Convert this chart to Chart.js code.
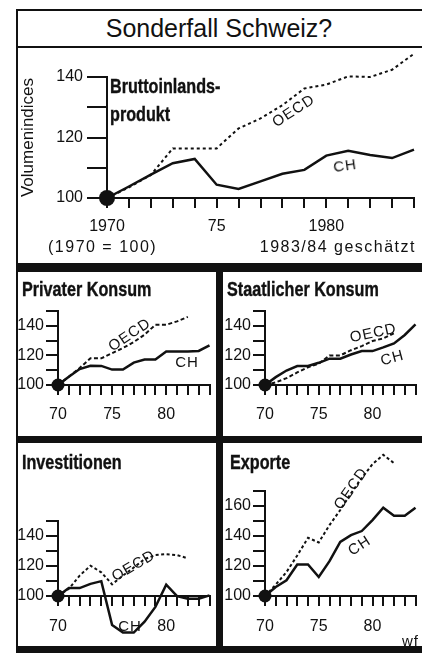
<!DOCTYPE html>
<html><head><meta charset="utf-8">
<script src="https://cdn.jsdelivr.net/npm/chart.js@4.4.1/dist/chart.umd.min.js"></script>
<style>
body{margin:0;width:422px;height:653px;overflow:hidden;background:#fff;position:relative;font-family:"Liberation Sans",Arial,sans-serif;color:#111}
.band{position:absolute;background:#111}
canvas{position:absolute}
.cond{position:absolute;font-family:"Liberation Sans",Arial,sans-serif;font-weight:bold;font-size:21px;line-height:20px;white-space:nowrap;transform:scaleX(0.77);transform-origin:0 0;-webkit-text-stroke:0.4px #111}
.lbl{position:absolute;font-size:15px;line-height:15px;white-space:nowrap;letter-spacing:1px}
.txt{position:absolute;font-size:16px;line-height:16px;white-space:nowrap;letter-spacing:1.5px}
</style></head>
<body>
<div class="band" style="left:16px;top:9px;width:2px;height:640px"></div>
<div class="band" style="left:16px;top:9px;width:406px;height:2px"></div>
<div class="band" style="left:16px;top:46px;width:406px;height:2px"></div>
<div class="band" style="left:16px;top:263px;width:406px;height:9px"></div>
<div class="band" style="left:216px;top:263px;width:7px;height:390px"></div>
<div class="band" style="left:16px;top:436px;width:406px;height:7px"></div>
<div class="band" style="left:16px;top:646px;width:406px;height:7px"></div>

<div style="position:absolute;left:16px;top:16px;width:406px;text-align:center;font-size:25px;line-height:25px">Sonderfall Schweiz?</div>

<canvas id="cTop" width="404" height="215" style="left:18px;top:48px"></canvas>
<canvas id="cPriv" width="198" height="164" style="left:18px;top:272px"></canvas>
<canvas id="cState" width="199" height="164" style="left:223px;top:272px"></canvas>
<canvas id="cInv" width="198" height="203" style="left:18px;top:443px"></canvas>
<canvas id="cExp" width="199" height="203" style="left:223px;top:443px"></canvas>

<div class="cond" style="left:110px;top:72px;line-height:28px">Bruttoinlands-<br>produkt</div>
<div class="cond" style="left:22px;top:279px">Privater Konsum</div>
<div class="cond" style="left:227px;top:279px">Staatlicher Konsum</div>
<div class="cond" style="left:22px;top:452px">Investitionen</div>
<div class="cond" style="left:230px;top:452px">Exporte</div>

<div class="txt" style="left:48px;top:239px">(1970 = 100)</div>
<div class="txt" style="right:6px;top:239px">1983/84 geschätzt</div>
<div class="lbl" style="left:402px;top:633px;font-size:15px">wf</div>

<div class="lbl" style="left:293px;top:110px;transform:translate(-50%,-50%) rotate(-33deg)">OECD</div>
<div class="lbl" style="left:345px;top:165px;transform:translate(-50%,-50%) rotate(-8deg)">CH</div>
<div class="lbl" style="left:129px;top:334px;transform:translate(-50%,-50%) rotate(-34deg)">OECD</div>
<div class="lbl" style="left:187px;top:361px;transform:translate(-50%,-50%)">CH</div>
<div class="lbl" style="left:373px;top:332px;transform:translate(-50%,-50%) rotate(-12deg)">OECD</div>
<div class="lbl" style="left:392px;top:357px;transform:translate(-50%,-50%) rotate(-15deg)">CH</div>
<div class="lbl" style="left:133px;top:565px;transform:translate(-50%,-50%) rotate(-30deg)">OECD</div>
<div class="lbl" style="left:130px;top:625px;transform:translate(-50%,-50%)">CH</div>
<div class="lbl" style="left:350px;top:488px;transform:translate(-50%,-50%) rotate(-55deg)">OECD</div>
<div class="lbl" style="left:359px;top:545px;transform:translate(-50%,-50%) rotate(-33deg)">CH</div>

<script>
const years = [1970,1971,1972,1973,1974,1975,1976,1977,1978,1979,1980,1981,1982,1983,1984];

const gdpCH   = [100,103.8,107.7,111.5,112.9,104.4,103,105.5,108,109.3,114,115.6,114.2,113.2,116];
const gdpOECD = [100,103.5,107.6,116.4,116.4,116.4,123,126.3,130.7,136.2,137.5,140.2,140,142.4,147.7];

const privCH   = [100,105.6,110.8,113,112.9,110.4,110.4,115.1,117.2,117.2,122.6,122.6,122.6,123,126.7];
const privOECD = [100,105.6,111.5,118,118,121.5,125,129,134,140.7,140.7,143,146];

const stateCH   = [100,105.3,109.8,112.8,112.8,115,117.8,117.8,120.6,122.9,122.9,125.4,128.1,133.8,141];
const stateOECD = [100,101.8,104.6,108.5,112,114.4,120,120,123.5,126.3,129.7,131.5,135];

const invCH   = [100,105.3,105.3,108.1,109.9,80.7,75.6,75.6,82.9,92.7,107.5,100,98.2,98.2,100.4];
const invOECD = [100,104.8,113.6,120.2,115.8,107.8,113.6,119,124.6,127.3,127.9,127.3,125.1];

const expCH   = [100,106,110.5,121,121,112.7,123.2,136.1,140.6,143.3,150.6,158.9,153.5,153.5,158.9];
const expOECD = [100,107.6,116,127,138.8,135.7,147.3,157.3,168.5,178.5,187.9,194.1,188.6];

const xTickYears      = [1970,1975,1980];
const topXTickLabels  = ['1970','75','1980'];
const lowXTickLabels  = ['70','75','80'];
const invXTickLabels  = ['70','','80'];
const yTickLabels140  = [100,120,140];
const yTickLabels160  = [100,120,140,160];

const INK = '#111';
const FONT = '"Liberation Sans", Arial, sans-serif';

function makeChart(id, c) {
  new Chart(document.getElementById(id), {
    type: 'line',
    data: { datasets: [
      { data: c.ch.map((v,i)=>({x:years[i], y:v})), borderColor:INK, borderWidth:2.5,
        pointRadius: ctx => ctx.dataIndex===0 ? c.dotR : 0, pointBackgroundColor:INK, pointBorderColor:INK,
        pointBorderWidth:0, clip:false, tension:0 },
      { data: c.oecd.map((v,i)=>({x:years[i], y:v})), borderColor:INK, borderWidth:2,
        borderDash:c.dash, pointRadius:0, clip:false, tension:0 }
    ]},
    options: {
      responsive:false, animation:false, events:[],
      layout:{padding:{top:c.padTop,left:0,right:0,bottom:0}},
      plugins:{legend:{display:false}, tooltip:{enabled:false}},
      scales:{
        x:{ type:'linear', min:1970, max:1984,
            afterFit(s){ s.height=c.xHeight; s.paddingLeft=0; s.paddingRight=0; },
            ticks:{ stepSize:1, autoSkip:false, maxRotation:0, minRotation:0, padding:c.xTickPad, color:INK,
                    font:{family:FONT,size:c.fs},
                    callback:v=>{ const i=xTickYears.indexOf(v); return i<0?'':c.xLabels[i]; } },
            grid:{ drawOnChartArea:false, drawTicks:true, tickLength:10, lineWidth:2, color:INK },
            border:{ display:true, width:2, color:INK } },
        y:{ min:c.yMin, max:c.yMax,
            afterFit(s){ s.width=c.yWidth; s.paddingTop=0; s.paddingBottom=0; },
            ticks:{ stepSize:10, autoSkip:false, padding:c.yTickPad, color:INK, font:{family:FONT,size:c.fs},
                    callback:v=> c.yLabels.includes(v) ? String(v) : '' },
            grid:{ drawOnChartArea:false, drawTicks:true, tickLength:c.yTickLen, lineWidth:2, color:INK },
            border:{ display:true, width:2, color:INK },
            title: c.yTitle ? { display:true, text:c.yTitle, color:INK, font:{family:FONT,size:17}, padding:{top:0,bottom:0} } : {display:false} }
      }
    }
  });
}

makeChart('cTop', {ch:gdpCH, oecd:gdpOECD, yMin:100, yMax:140, yLabels:yTickLabels140, xLabels:topXTickLabels,
  padTop:29, xHeight:65, yWidth:89, yTickLen:20, yTickPad:4, xTickPad:9, fs:16, dotR:8, dash:[3,3], yTitle:'Volumenindices'});
makeChart('cPriv', {ch:privCH, oecd:privOECD, yMin:100, yMax:150, yLabels:yTickLabels140, xLabels:lowXTickLabels,
  padTop:39, xHeight:51, yWidth:40, yTickLen:12, yTickPad:2, xTickPad:10, fs:16, dotR:6.5, dash:[4,2.5]});
makeChart('cState', {ch:stateCH, oecd:stateOECD, yMin:100, yMax:150, yLabels:yTickLabels140, xLabels:lowXTickLabels,
  padTop:39, xHeight:51, yWidth:42, yTickLen:12, yTickPad:2, xTickPad:10, fs:16, dotR:6.5, dash:[4,2.5]});
makeChart('cInv', {ch:invCH, oecd:invOECD, yMin:100, yMax:150, yLabels:yTickLabels140, xLabels:invXTickLabels,
  padTop:78, xHeight:50, yWidth:40, yTickLen:12, yTickPad:2, xTickPad:11, fs:16, dotR:6.5, dash:[3,2.5]});
makeChart('cExp', {ch:expCH, oecd:expOECD, yMin:100, yMax:170, yLabels:yTickLabels160, xLabels:lowXTickLabels,
  padTop:48, xHeight:50, yWidth:42, yTickLen:12, yTickPad:2, xTickPad:11, fs:16, dotR:6.5, dash:[3,2.5]});
</script>
</body></html>
